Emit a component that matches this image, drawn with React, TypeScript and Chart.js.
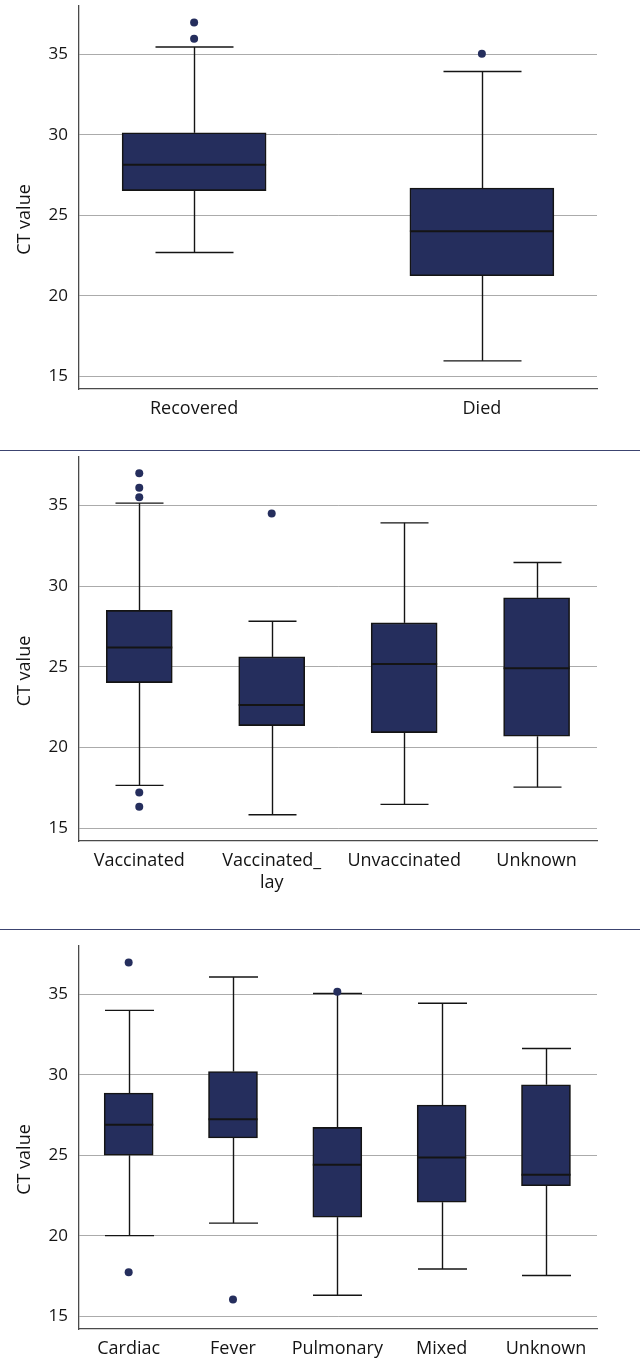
import React, { useEffect, useRef } from "react";
import { Chart, registerables } from "chart.js";

Chart.register(...registerables);

const FONT = "'Open Sans', 'Noto Sans', sans-serif";
const NAVY = "#252e5d";
const INK = "#141414";

const yTicks = [15, 20, 25, 30, 35];
const yAxisTitle = "CT value";

// Panel 1: outcome
const outcomeCategories = ["Recovered", "Died"];
const outcomeMin = [22.68, 15.95];
const outcomeQ1 = [26.53, 21.24];
const outcomeMedian = [28.14, 24.01];
const outcomeQ3 = [30.12, 26.69];
const outcomeMax = [35.45, 33.93];
const outcomeOutliers = [[35.97, 36.98], [35.04]];

// Panel 2: vaccination
const vaccCategories = ["Vaccinated", "Vaccinated_\nlay", "Unvaccinated", "Unknown"];
const vaccMin = [17.65, 15.83, 16.47, 17.54];
const vaccQ1 = [24.02, 21.35, 20.92, 20.69];
const vaccMedian = [26.19, 22.63, 25.17, 24.91];
const vaccQ3 = [28.49, 25.61, 27.72, 29.27];
const vaccMax = [35.14, 27.82, 33.92, 31.46];
const vaccOutliers = [[37.0, 36.09, 35.51, 17.2, 16.33], [34.5], [], []];

// Panel 3: presentation
const presCategories = ["Cardiac", "Fever", "Pulmonary", "Mixed", "Unknown"];
const presMin = [20.0, 20.78, 16.3, 17.93, 17.52];
const presQ1 = [25.0, 26.07, 21.15, 22.08, 23.1];
const presMedian = [26.9, 27.23, 24.4, 24.85, 23.78];
const presQ3 = [28.86, 30.2, 26.73, 28.12, 29.38];
const presMax = [34.0, 36.07, 35.05, 34.44, 31.63];
const presOutliers = [[36.98, 17.72], [16.03], [35.15], [], []];

type Stats = {
  cats: string[];
  min: number[];
  q1: number[];
  median: number[];
  q3: number[];
  max: number[];
  outliers: number[][];
};

type Layout = {
  top: number;
  height: number;
  padTop: number;
  xHeight: number;
  xMin: number;
  xMax: number;
  boxWidth: number;
  capWidth: number;
};

const panels: { stats: Stats; layout: Layout }[] = [
  {
    stats: {
      cats: outcomeCategories,
      min: outcomeMin,
      q1: outcomeQ1,
      median: outcomeMedian,
      q3: outcomeQ3,
      max: outcomeMax,
      outliers: outcomeOutliers,
    },
    layout: { top: 0, height: 440, padTop: 6, xHeight: 51, xMin: -0.4, xMax: 1.4, boxWidth: 144, capWidth: 78 },
  },
  {
    stats: {
      cats: vaccCategories,
      min: vaccMin,
      q1: vaccQ1,
      median: vaccMedian,
      q3: vaccQ3,
      max: vaccMax,
      outliers: vaccOutliers,
    },
    layout: { top: 451, height: 469, padTop: 6, xHeight: 79, xMin: -0.455, xMax: 3.456, boxWidth: 66, capWidth: 48 },
  },
  {
    stats: {
      cats: presCategories,
      min: presMin,
      q1: presQ1,
      median: presMedian,
      q3: presQ3,
      max: presMax,
      outliers: presOutliers,
    },
    layout: { top: 930, height: 428, padTop: 16, xHeight: 29, xMin: -0.476, xMax: 4.489, boxWidth: 49, capWidth: 49 },
  },
];

function BoxPanel({ stats, layout }: { stats: Stats; layout: Layout }) {
  const ref = useRef<HTMLCanvasElement>(null);

  useEffect(() => {
    const canvas = ref.current;
    if (!canvas) return;

    const line = (ctx: CanvasRenderingContext2D, x1: number, y1: number, x2: number, y2: number) => {
      ctx.beginPath();
      ctx.moveTo(x1, y1);
      ctx.lineTo(x2, y2);
      ctx.stroke();
    };

    const whiskers = {
      id: "whiskers",
      beforeDatasetsDraw(chart: any) {
        const { ctx } = chart;
        const x = chart.scales.x;
        const y = chart.scales.y;
        ctx.save();
        ctx.strokeStyle = INK;
        ctx.lineWidth = 1.4;
        const half = layout.capWidth / 2;
        stats.cats.forEach((_, i) => {
          const cx = Math.round(x.getPixelForValue(i)) + 0.5;
          const yMax = y.getPixelForValue(stats.max[i]);
          const yMin = y.getPixelForValue(stats.min[i]);
          line(ctx, cx, yMax, cx, y.getPixelForValue(stats.q3[i]));
          line(ctx, cx, y.getPixelForValue(stats.q1[i]), cx, yMin);
          line(ctx, cx - half, yMax, cx + half, yMax);
          line(ctx, cx - half, yMin, cx + half, yMin);
        });
        ctx.restore();
      },
      afterDatasetsDraw(chart: any) {
        const { ctx } = chart;
        const x = chart.scales.x;
        const y = chart.scales.y;
        ctx.save();
        ctx.strokeStyle = INK;
        ctx.lineWidth = 2;
        const half = layout.boxWidth / 2;
        stats.cats.forEach((_, i) => {
          const cx = x.getPixelForValue(i);
          const ym = y.getPixelForValue(stats.median[i]);
          line(ctx, cx - half, ym, cx + half, ym);
        });
        ctx.restore();
      },
    };

    const yTitle = {
      id: "yTitle",
      afterDraw(chart: any) {
        const { ctx, chartArea } = chart;
        ctx.save();
        ctx.translate(25, (chartArea.top + chartArea.bottom) / 2 + 22);
        ctx.rotate(-Math.PI / 2);
        ctx.font = `18px ${FONT}`;
        ctx.fillStyle = INK;
        ctx.textAlign = "center";
        ctx.textBaseline = "middle";
        ctx.fillText(yAxisTitle, 0, 0);
        ctx.restore();
      },
    };

    const outlierPoints = stats.outliers.flatMap((vals, i) => vals.map((v) => ({ x: i, y: v })));
    const boxes = stats.cats.map((_, i) => ({ x: i, y: [stats.q1[i], stats.q3[i]] }));

    const chart = new Chart(canvas, {
      type: "bar",
      data: {
        datasets: [
          {
            type: "scatter",
            data: outlierPoints,
            pointRadius: 4,
            pointHoverRadius: 4,
            pointBackgroundColor: NAVY,
            pointBorderColor: NAVY,
            pointBorderWidth: 0,
            order: 0,
          } as any,
          {
            type: "bar",
            data: boxes,
            barThickness: layout.boxWidth,
            backgroundColor: NAVY,
            borderColor: INK,
            borderWidth: 1.6,
            borderSkipped: false,
            order: 1,
          } as any,
        ],
      },
      options: {
        animation: false,
        responsive: true,
        maintainAspectRatio: false,
        layout: { padding: { top: layout.padTop, right: 43, bottom: 0, left: 0 } },
        plugins: { legend: { display: false }, tooltip: { enabled: false } },
        scales: {
          x: {
            type: "linear",
            min: layout.xMin,
            max: layout.xMax,
            offset: false,
            grid: { display: false, offset: false, drawTicks: false },
            border: { display: true, color: "#4a4a4a", width: 1.3 },
            afterBuildTicks: (scale: any) => {
              scale.ticks = stats.cats.map((_, i) => ({ value: i }));
            },
            afterFit: (scale: any) => {
              scale.height = layout.xHeight;
              scale.paddingLeft = 0;
              scale.paddingRight = 0;
            },
            ticks: {
              autoSkip: false,
              maxRotation: 0,
              minRotation: 0,
              padding: 9,
              color: INK,
              font: { family: FONT, size: 18 },
              callback: (value: any) => {
                const label = stats.cats[Math.round(Number(value))];
                return label ? label.split("\n") : "";
              },
            },
          },
          y: {
            type: "linear",
            min: 14.2,
            max: 38,
            grid: { display: true, color: "#ababab", lineWidth: 1, drawTicks: false },
            border: { display: true, color: "#4a4a4a", width: 1.3 },
            afterBuildTicks: (scale: any) => {
              scale.ticks = yTicks.map((v) => ({ value: v }));
            },
            afterFit: (scale: any) => {
              scale.width = 79;
              scale.paddingTop = 0;
              scale.paddingBottom = 0;
            },
            ticks: {
              padding: 11,
              color: INK,
              font: { family: FONT, size: 17 },
            },
          },
        },
      } as any,
      plugins: [whiskers, yTitle],
    });

    return () => chart.destroy();
  }, [stats, layout]);

  return (
    <div style={{ position: "absolute", left: 0, top: layout.top, width: 640, height: layout.height }}>
      <canvas ref={ref} />
    </div>
  );
}

export default function App() {
  return (
    <div
      style={{
        position: "absolute",
        left: 0,
        top: 0,
        width: 640,
        height: 1358,
        background: "#ffffff",
        overflow: "hidden",
      }}
    >
      {panels.map((p, i) => (
        <BoxPanel key={i} stats={p.stats} layout={p.layout} />
      ))}
      <div style={{ position: "absolute", left: 0, top: 450, width: 640, height: 1, background: "#3c4470" }} />
      <div style={{ position: "absolute", left: 0, top: 929, width: 640, height: 1, background: "#3c4470" }} />
    </div>
  );
}
